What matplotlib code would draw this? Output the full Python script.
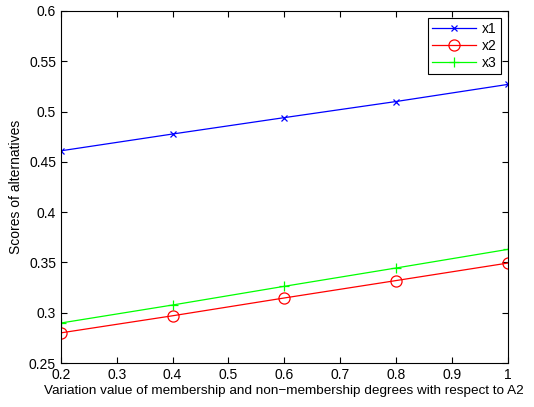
import matplotlib
matplotlib.use("Agg")
import matplotlib.pyplot as plt

plt.rcParams['font.family'] = ['Liberation Sans', 'DejaVu Sans']

# values
variation = [0.2, 0.4, 0.6, 0.8, 1.0]
x1_scores = [0.461, 0.4777, 0.494, 0.510, 0.527]
x2_scores = [0.280, 0.297, 0.3147, 0.332, 0.3494]
x3_scores = [0.2898, 0.3077, 0.3263, 0.3445, 0.363]
series_names = ["x1", "x2", "x3"]

fig = plt.figure(figsize=(5.34, 4.07), dpi=100)
ax = fig.add_axes([0.114, 0.108, 0.837, 0.865])

ax.plot(variation, x1_scores, color=(0, 0, 1), marker="x", markersize=5, linewidth=0.9,
        markeredgewidth=0.9, label=series_names[0])
ax.plot(variation, x2_scores, color=(1, 0, 0), marker="o", markersize=8, linewidth=0.9,
        markerfacecolor="none", markeredgewidth=0.9, label=series_names[1])
ax.plot(variation, x3_scores, color=(0, 1, 0), marker="+", markersize=7, linewidth=0.9,
        markeredgewidth=0.9, label=series_names[2])

ax.set_xlim(0.2, 1.0)
ax.set_ylim(0.25, 0.6)
ax.set_xticks([0.2, 0.3, 0.4, 0.5, 0.6, 0.7, 0.8, 0.9, 1.0])
ax.set_xticklabels(["0.2", "0.3", "0.4", "0.5", "0.6", "0.7", "0.8", "0.9", "1"])
ax.set_yticks([0.25, 0.3, 0.35, 0.4, 0.45, 0.5, 0.55, 0.6])
ax.set_yticklabels(["0.25", "0.3", "0.35", "0.4", "0.45", "0.5", "0.55", "0.6"])
ax.tick_params(direction="in", top=True, right=True, labelsize=10, length=4, width=0.8)
for s in ax.spines.values():
    s.set_linewidth(0.8)

ax.set_xlabel("Variation value of membership and non\u2212membership degrees with respect to A2",
              fontsize=9.7, labelpad=2)
ax.set_ylabel("Scores of alternatives", fontsize=10, labelpad=4)

leg = ax.legend(loc="upper right", fontsize=10, fancybox=False, edgecolor="black",
                framealpha=1, handlelength=3.2, borderpad=0.3, labelspacing=0.2,
                handletextpad=0.4, borderaxespad=0.5)
leg.get_frame().set_linewidth(0.8)

fig.savefig("out.png", dpi=100)
